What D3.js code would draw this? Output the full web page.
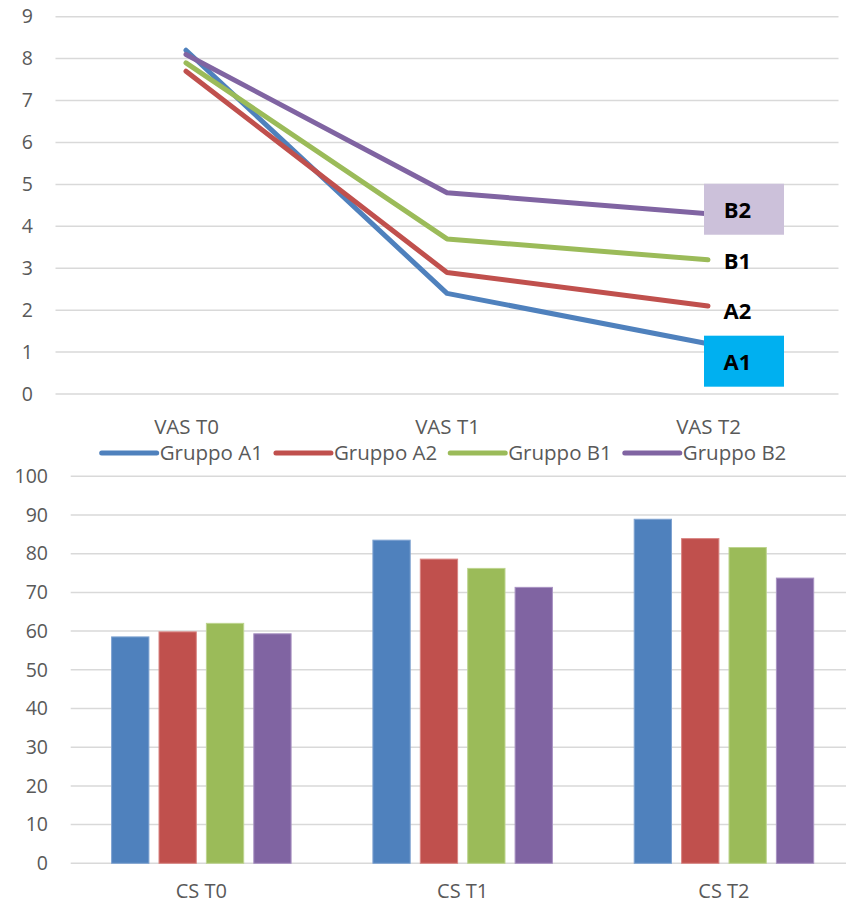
<!DOCTYPE html>
<html>
<head>
<meta charset="utf-8">
<script src="https://cdn.jsdelivr.net/npm/d3@7"></script>
<style>
  html, body { margin: 0; padding: 0; background: #fff; }
  svg { display: block; font-family: "Open Sans", Lato, sans-serif; }
</style>
</head>
<body>
<svg id="chart" width="846" height="905"></svg>
<script>
// --- data ---------------------------------------------------------------
const series = ["Gruppo A1", "Gruppo A2", "Gruppo B1", "Gruppo B2"];
const shortLabels = ["A1", "A2", "B1", "B2"];
const vasCategories = ["VAS T0", "VAS T1", "VAS T2"];
const csCategories = ["CS T0", "CS T1", "CS T2"];

// VAS scores per group (T0, T1, T2)
const vasA1 = [8.2, 2.4, 1.2];
const vasA2 = [7.7, 2.9, 2.1];
const vasB1 = [7.9, 3.7, 3.2];
const vasB2 = [8.1, 4.8, 4.3];

// CS scores per group (T0, T1, T2)
const csA1 = [58.5, 83.5, 88.9];
const csA2 = [59.8, 78.6, 83.9];
const csB1 = [62.0, 76.2, 81.6];
const csB2 = [59.3, 71.3, 73.7];

const vasTicks = [0, 1, 2, 3, 4, 5, 6, 7, 8, 9];
const csTicks = [0, 10, 20, 30, 40, 50, 60, 70, 80, 90, 100];

// --- styling --------------------------------------------------------------
const colors = ["#4F81BD", "#C0504D", "#9BBB59", "#8064A2"];
const edgeColors = ["#7fa3d1", "#d98583", "#bdd48f", "#a892c2"];
const textColor = "#595959";
const gridColor = "#D9D9D9";
const font = "'Open Sans', sans-serif";

// end-of-line label styles: vertical nudge and optional box fill
const endLabelStyle = [
  { dy: 18, box: "#00B0F0" },
  { dy: 5, box: null },
  { dy: 1, box: null },
  { dy: -4, box: "#CCC1DA" }
];

const vasSeries = [vasA1, vasA2, vasB1, vasB2];
const csSeries = [csA1, csA2, csB1, csB2];

const svg = d3.select("#chart");

// ===================== line chart (VAS) =====================
const lineArea = { left: 55.5, right: 838.5, y0: 394, y1: 16.7 };

const xVas = d3.scalePoint()
  .domain(vasCategories)
  .range([lineArea.left, lineArea.right])
  .padding(0.5);

const yVas = d3.scaleLinear().domain([0, 9]).range([lineArea.y0, lineArea.y1]);

const gTop = svg.append("g");

gTop.append("g")
  .selectAll("line")
  .data(vasTicks)
  .join("line")
  .attr("x1", lineArea.left)
  .attr("x2", lineArea.right)
  .attr("y1", d => yVas(d))
  .attr("y2", d => yVas(d))
  .attr("stroke", gridColor)
  .attr("stroke-width", 1.5);

const yAxisTop = d3.axisLeft(yVas).tickValues(vasTicks).tickSize(0).tickPadding(0);
gTop.append("g")
  .attr("transform", "translate(33,0)")
  .call(yAxisTop)
  .call(g => g.select(".domain").remove())
  .call(g => g.selectAll("text")
    .attr("fill", textColor)
    .style("font-size", "19.5px")
    .style("font-family", font));

const xAxisTop = d3.axisBottom(xVas).tickSize(0).tickPadding(0);
gTop.append("g")
  .attr("transform", "translate(0,427)")
  .call(xAxisTop)
  .call(g => g.select(".domain").remove())
  .call(g => g.selectAll("text")
    .attr("dy", "0.35em")
    .attr("fill", textColor)
    .style("font-size", "20.5px")
    .style("font-family", font));

const line = d3.line()
  .x((d, i) => xVas(vasCategories[i]))
  .y(d => yVas(d));

gTop.append("g")
  .selectAll("path")
  .data(vasSeries)
  .join("path")
  .attr("d", d => line(d))
  .attr("fill", "none")
  .attr("stroke", (d, i) => colors[i])
  .attr("stroke-width", 5)
  .attr("stroke-linecap", "round")
  .attr("stroke-linejoin", "round");

// labels at the last point of each line
const lastCat = vasCategories[vasCategories.length - 1];
const endLabels = gTop.append("g");
vasSeries.forEach((vals, i) => {
  const px = xVas(lastCat);
  const py = yVas(vals[vals.length - 1]) + endLabelStyle[i].dy;
  const st = endLabelStyle[i];
  if (st.box) {
    endLabels.append("rect")
      .attr("x", px - 4)
      .attr("y", py - 26)
      .attr("width", 80)
      .attr("height", 51)
      .attr("fill", st.box);
  }
  endLabels.append("text")
    .attr("x", px + 29.5)
    .attr("y", py)
    .attr("dy", "0.36em")
    .attr("text-anchor", "middle")
    .attr("fill", "#000")
    .style("font-size", "22px")
    .style("font-weight", "bold")
    .style("font-family", font)
    .text(shortLabels[i]);
});

// legend
const legend = svg.append("g").attr("transform", "translate(0,453)");
const lineLen = 55, textGap = 3, itemGap = 13;
const items = legend.selectAll("g")
  .data(series)
  .join("g");
items.append("line")
  .attr("x1", 0).attr("x2", lineLen)
  .attr("y1", 0).attr("y2", 0)
  .attr("stroke", (d, i) => colors[i])
  .attr("stroke-width", 5)
  .attr("stroke-linecap", "round");
items.append("text")
  .attr("x", lineLen + textGap)
  .attr("y", 0)
  .attr("dy", "0.35em")
  .attr("fill", textColor)
  .style("font-size", "20.5px")
  .style("font-family", font)
  .text(d => d);
const widths = [];
items.each(function () {
  const w = lineLen + textGap + d3.select(this).select("text").node().getComputedTextLength();
  widths.push(w);
});
const total = d3.sum(widths) + itemGap * (widths.length - 1);
let cursor = 444 - total / 2;
items.attr("transform", (d, i) => {
  const x = cursor;
  cursor += widths[i] + itemGap;
  return `translate(${x},0)`;
});

// ===================== bar chart (CS) =====================
const barArea = { left: 70.7, right: 854.6, y0: 863.3, y1: 476.3 };

const x0 = d3.scaleBand()
  .domain(csCategories)
  .range([barArea.left, barArea.right])
  .paddingInner(0)
  .paddingOuter(0);

const x1 = d3.scaleBand()
  .domain(series)
  .range([40.9, x0.bandwidth() - 40.9])
  .paddingInner(0.213)
  .paddingOuter(0);

const yCs = d3.scaleLinear().domain([0, 100]).range([barArea.y0, barArea.y1]);

const gBot = svg.append("g");

gBot.append("g")
  .selectAll("line")
  .data(csTicks)
  .join("line")
  .attr("x1", barArea.left)
  .attr("x2", barArea.right)
  .attr("y1", d => yCs(d))
  .attr("y2", d => yCs(d))
  .attr("stroke", gridColor)
  .attr("stroke-width", 1.5);

const yAxisBot = d3.axisLeft(yCs).tickValues(csTicks).tickSize(0).tickPadding(0);
gBot.append("g")
  .attr("transform", "translate(48,0)")
  .call(yAxisBot)
  .call(g => g.select(".domain").remove())
  .call(g => g.selectAll("text")
    .attr("fill", textColor)
    .style("font-size", "19.5px")
    .style("font-family", font));

const xAxisBot = d3.axisBottom(x0).tickSize(0).tickPadding(0);
gBot.append("g")
  .attr("transform", "translate(0,891)")
  .call(xAxisBot)
  .call(g => g.select(".domain").remove())
  .call(g => g.selectAll("text")
    .attr("dy", "0.35em")
    .attr("fill", textColor)
    .style("font-size", "20px")
    .style("font-family", font));

const barData = [];
csCategories.forEach((c, ci) => {
  series.forEach((s, si) => {
    barData.push({ cat: c, s, si, v: csSeries[si][ci] });
  });
});

gBot.append("g")
  .selectAll("rect")
  .data(barData)
  .join("rect")
  .attr("x", d => x0(d.cat) + x1(d.s))
  .attr("y", d => yCs(d.v))
  .attr("width", x1.bandwidth())
  .attr("height", d => yCs(0) - yCs(d.v))
  .attr("fill", d => colors[d.si])
  .attr("stroke", d => edgeColors[d.si])
  .attr("stroke-width", 1);
</script>
</body>
</html>
